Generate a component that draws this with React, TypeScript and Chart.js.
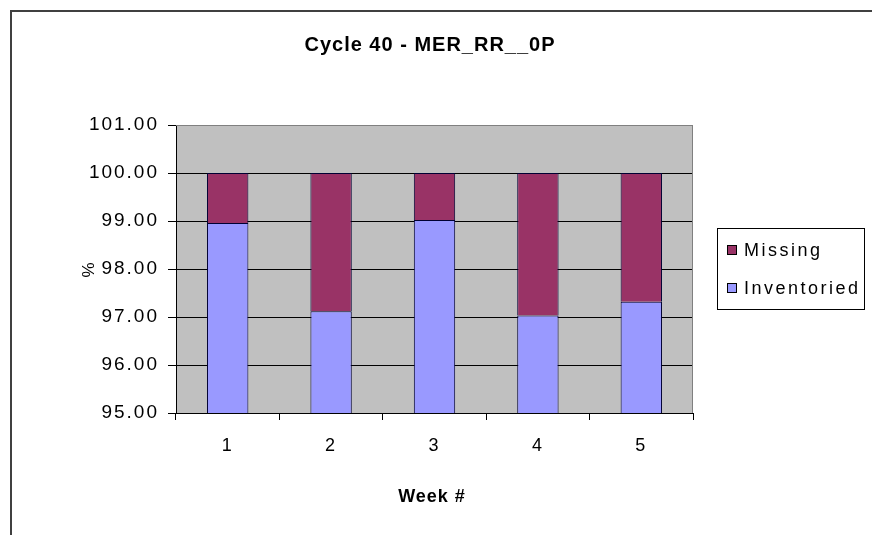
import React, { useEffect, useRef } from "react";
import { Chart, registerables } from "chart.js";

Chart.register(...registerables);

const chartTitle = "Cycle 40 - MER_RR__0P";
const xTitle = "Week #";
const yTitle = "%";
const categories = ["1", "2", "3", "4", "5"];
const inventoried = [98.96, 97.12, 99.02, 97.03, 97.32];
const missing = [1.04, 2.88, 0.98, 2.97, 2.68];
const yMin = 95;
const yMax = 101;
const yStep = 1;

const FONT = "'Liberation Sans', Arial, sans-serif";
const MISSING_COLOR = "#993366";
const INV_COLOR = "#9999FF";

const decorPlugin = {
  id: "decor",
  beforeDraw(chart: any) {
    const ctx = chart.ctx;
    const a = chart.chartArea;
    ctx.save();
    ctx.fillStyle = "#ffffff";
    ctx.fillRect(0, 0, chart.width, chart.height);
    // outer frame
    ctx.strokeStyle = "#404040";
    ctx.lineWidth = 2;
    ctx.beginPath();
    ctx.moveTo(11, chart.height + 5);
    ctx.lineTo(11, 11);
    ctx.lineTo(chart.width + 5, 11);
    ctx.stroke();
    // plot background
    ctx.fillStyle = "#C0C0C0";
    ctx.fillRect(a.left, a.top, a.right - a.left, a.bottom - a.top);
    ctx.restore();
    (ctx as any).letterSpacing = "2px";
  },
  afterDraw(chart: any) {
    const ctx = chart.ctx;
    const a = chart.chartArea;
    ctx.save();
    // plot border right/top
    ctx.strokeStyle = "#808080";
    ctx.lineWidth = 1;
    ctx.beginPath();
    ctx.moveTo(a.left, a.top + 0.5);
    ctx.lineTo(a.right - 0.5, a.top + 0.5);
    ctx.lineTo(a.right - 0.5, a.bottom);
    ctx.stroke();

    ctx.fillStyle = "#000";
    // title
    (ctx as any).letterSpacing = "1px";
    ctx.font = `bold 20px ${FONT}`;
    ctx.textAlign = "center";
    ctx.textBaseline = "middle";
    ctx.fillText(chartTitle, 430, 45);
    // x title
    (ctx as any).letterSpacing = "1px";
    ctx.font = `bold 18px ${FONT}`;
    ctx.fillText(xTitle, 432, 497);
    // y title
    ctx.save();
    ctx.translate(89, 270);
    ctx.rotate(-Math.PI / 2);
    ctx.font = `17px ${FONT}`;
    (ctx as any).letterSpacing = "0px";
    ctx.fillText(yTitle, 0, 0);
    ctx.restore();

    // legend
    ctx.strokeStyle = "#000";
    ctx.lineWidth = 1;
    ctx.strokeRect(717.5, 228.5, 147, 81);
    const items = [
      { label: chart.data.datasets[1].label, color: MISSING_COLOR, y: 250 },
      { label: chart.data.datasets[0].label, color: INV_COLOR, y: 288 },
    ];
    ctx.font = `18px ${FONT}`;
    (ctx as any).letterSpacing = "2.5px";
    ctx.textAlign = "left";
    for (const it of items) {
      ctx.fillStyle = it.color;
      ctx.fillRect(727, it.y - 5, 10, 10);
      ctx.strokeStyle = "#000";
      ctx.strokeRect(727.5, it.y - 4.5, 9, 9);
      ctx.fillStyle = "#000";
      ctx.fillText(it.label, 744, it.y + 1);
    }
    ctx.restore();
  },
};

export default function App() {
  const ref = useRef<HTMLCanvasElement | null>(null);
  useEffect(() => {
    if (!ref.current) return;
    const chart = new Chart(ref.current, {
      type: "bar",
      data: {
        labels: categories,
        datasets: [
          {
            label: "Inventoried",
            data: inventoried,
            backgroundColor: INV_COLOR,
            borderColor: "#000033",
            borderWidth: 1,
            categoryPercentage: 1,
            barPercentage: 0.4,
          },
          {
            label: "Missing",
            data: missing,
            backgroundColor: MISSING_COLOR,
            borderColor: "#000033",
            borderWidth: 1,
            categoryPercentage: 1,
            barPercentage: 0.4,
          },
        ],
      },
      options: {
        responsive: false,
        animation: false,
        layout: { padding: { top: 125, right: 179, bottom: 0, left: 0 } },
        plugins: {
          legend: { display: false },
          title: { display: false },
          tooltip: { enabled: false },
        },
        scales: {
          x: {
            stacked: true,
            afterFit: (s: any) => {
              s.height = 122;
            },
            grid: {
              offset: true,
              drawOnChartArea: false,
              drawTicks: true,
              tickLength: 7,
              color: "#000",
            },
            border: { display: true, color: "#000", width: 1 },
            ticks: {
              color: "#000",
              font: { family: FONT, size: 18 },
              padding: 15,
            },
          },
          y: {
            stacked: true,
            min: yMin,
            max: yMax,
            afterFit: (s: any) => {
              s.width = 176;
            },
            grid: {
              color: (c: any) => (c.tick && c.tick.value === yMax ? "#808080" : "#000"),
              tickColor: "#000",
              tickLength: 8,
              lineWidth: 1,
            },
            border: { display: true, color: "#000", width: 1 },
            ticks: {
              stepSize: yStep,
              color: "#000",
              font: { family: FONT, size: 19 },
              padding: 9,
              callback: (v: any) => Number(v).toFixed(2),
            },
          },
        },
      },
      plugins: [decorPlugin],
    });
    return () => chart.destroy();
  }, []);
  return (
    <div style={{ position: "fixed", left: 0, top: 0, width: 872, height: 535, background: "#fff" }}>
      <canvas ref={ref} width={872} height={535} style={{ display: "block" }} />
    </div>
  );
}
